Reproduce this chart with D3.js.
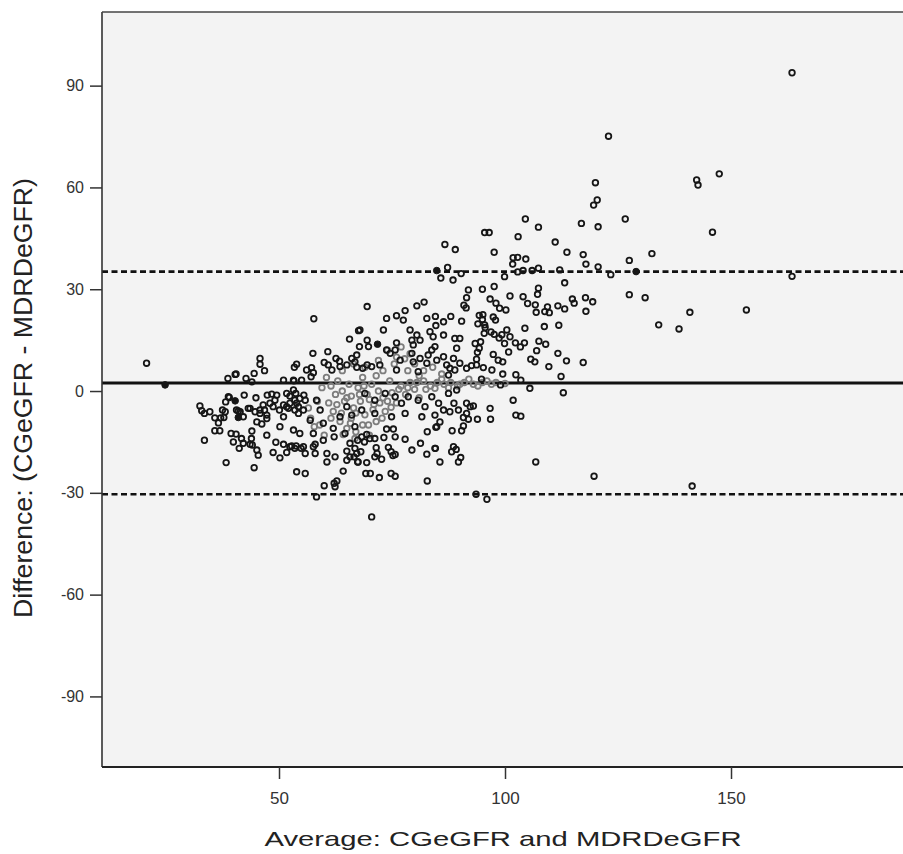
<!DOCTYPE html>
<html><head><meta charset="utf-8">
<script src="https://cdn.jsdelivr.net/npm/d3@7"></script>
<style>
body{margin:0;background:#fff}
svg{display:block}
text{font-family:"Liberation Sans",Arial,sans-serif}
</style></head>
<body><svg id="chart" width="903" height="854"></svg>
<script>
const xLabel = "Average: CGeGFR and MDRDeGFR";
const yLabel = "Difference: (CGeGFR - MDRDeGFR)";
const xTicks = [50, 100, 150];
const yTicks = [-90, -60, -30, 0, 30, 60, 90];
const meanDiff = 2.4, upperLimit = 35.2, lowerLimit = -30.4;

const darkPoints = [
[163.5,93.8],[122.9,75.1],[142.4,62.2],[142.7,60.7],[147.4,64.0],[126.6,50.7],[145.9,46.8],[120.4,56.3],[120.6,48.4],[120.6,36.6],
[132.5,40.5],[127.5,38.5],[123.4,34.3],[163.5,33.8],[127.5,28.4],[131,27.5],[140.9,23.2],[153.4,23.9],[134,19.5],[138.5,18.3],
[141.4,-28.0],[119.7,-25.1],[106.8,-20.9],[93.6,-30.4],[96,-31.9],
[120,61.4],[119.6,54.8],[116.9,49.4],[104.5,50.7],[107.4,48.3],[95.5,46.7],[96.5,46.7],[102.9,45.5],[111.1,43.9],[86.7,43.2],
[89,41.7],[97.6,40.9],[113.7,40.9],[117.3,40.2],[101.8,39.3],[102.8,39.4],[104.6,38.9],[101.7,37.4],[117.9,37.4],[87.3,36.4],
[85.8,33.3],[88.5,32.7],[90.3,34.6],[99.9,33.7],[102.8,35.1],[104,35.5],[106,35.5],[107.4,36.2],[112.1,35.7],[113.2,31.9],
[97.6,30.8],[95,30],[91.9,29.8],[107.4,30.3],
[107.2,28.5],[91.5,27.5],[101.1,28],[104,27.8],[105,25.8],[96.7,27.1],[98,25.9],[98.8,24.4],[106.7,25.4],[100.2,23.9],
[109.4,24.8],[109.8,23.1],[108.8,23.4],[106.9,23.2],[111.7,25.1],[113.2,24.2],[114.9,27.1],[115.3,25.9],[117.8,27.5],[119.4,26.3],
[117.9,23.5],[90.9,25.3],[91.4,24.5],[88,22],[90.4,20.6],[84.6,22],[86.4,20.4],[84.7,19.3],[94.3,22.3],[95.1,22.5],
[95,21.1],[94,19.8],[95.5,19.5],[97.9,20.9],[97.4,21.8],[104.4,18.5],[108.7,19],[111.9,19.4],[83.4,17.5],[84.1,16],
[86.4,16.5],[88.9,15.5],[90,15.5],[95.6,18.7],[95.4,17],[96.9,17.4],[97.6,16.7],[99.3,16.6],[100.4,18],[98.7,15.6],
[99.9,14],[101.1,16],[102.3,14.2],[103.4,13],[104.3,14.2],[107.5,14.7],[109,13.8],[93.4,14],[94.6,14.5],[94.3,12.6],
[93.9,11.4],[89.3,12.6],[107,11.9],[100.8,11.5],[105.7,9.4],[106.6,8.6],[111.7,11.1],[113.6,8.9],[117.3,8.4],[109.7,7.2],
[112.4,4.3],[97.4,10.8],[98.5,9.1],[99.5,8.6],[93.7,9.4],[92.6,7.5],[93.7,7.7],[95.2,6.9],[97.1,6.2],[99.5,5],
[102.4,4.8],[103.5,3.2],[105.5,0.8],[99,1.8],[94.8,3.5],[112.9,-0.5],[101.8,-2.7],[102.4,-7.1],[103.5,-7.4],[96.7,-5.1],
[96.8,-8.3],[93.9,-8.3],[88.3,-11.7],[90.8,-10.3],[90.4,-11.7],[84.9,-10.5],[84.6,-16.9],[88.6,-16.4],[89.2,-17.2],[88.2,-17.9],
[90.2,-19.6],[89.7,-20.9],[85.6,-20.9],[91.5,-3.6],[92.3,-4.6],[93,-4.4],[87.5,-0.7],[89.3,0.3],[88.7,-3.6],[86.4,-5.6],
[87.8,-6.1],[89.7,-5.6],[90.8,-7.8],[91.5,-6.6],
[70.5,-37.1],[82.8,-26.5],[69.2,-24.3],[70.2,-24.3],[72.2,-25.5],[74.8,-24.3],[75.7,-25.1],[69.4,-21.1],[67.4,-20.9],[71.2,-19.4],
[71.7,-18.4],[72.7,-20.1],[71.5,-16.7],[74.2,-16.6],[74.8,-17.9],[75.2,-19],[75.7,-18.7],[68.1,-17.9],[66.8,-16.9],[81.3,-15.4],
[82.7,-18.6],[84.5,-16.9],[82.8,-12],[84.7,-10.7],[85.6,-9.1],[77.9,-14.2],[75.7,-13.5],[73.2,-13.7],[73.8,-11.2],[75.3,-11.2],
[71.2,-14],[70.1,-14],[69.4,-12.8],[68.3,-13.5],[67.4,-14.5],[68.9,-15],[91.9,-8.3],
[58.3,-31.2],[60,-27.9],[62.4,-28.2],[62.8,-26.5],[62.2,-27.2],[64.2,-23.6],[53.9,-23.8],[55.8,-24.3],[44.5,-22.6],[60.6,-18.4],
[60.6,-20.9],[58,-18.4],[55.8,-18.4],[53.5,-16.9],[52.4,-16.4],[50.2,-19.7],[48.7,-18.1],[51.7,-18.1],[45.4,-18.9],[45.1,-17.4],
[49.3,-15.1],[51,-15.7],[41.2,-16.9],[39.9,-15],[43.9,-14],[43.6,-15.7],[47.3,-13],[54.9,-16.9],[65,-17.7],[66.6,-19.4],
[67.5,-20.9],[62.2,-13.5],[58,-15.7],
[20.7,8.2],[45.8,9.6],[45.8,7.9],[46.8,6],[44.5,5.2],[40.3,4.9],[38.7,3.7],[42.7,3.7],[44,2.7],[53.4,7],
[53.9,7.9],[53.3,3],[42.3,-1.2],[44.9,-2],[38.8,-1.7],[32.5,-4.4],[32.9,-5.8],[33.5,-6.6],[34.7,-6.1],[35.8,-7.9],
[37.1,-7.9],[36.6,-9.4],[37.8,-7.8],[38.1,-6.1],[37.5,-5.6],[43.2,-5.1],[44.7,-6.1],[45.8,-5.6],[46.8,-5.6],[47.3,-7.1],
[45.1,-9.1],[46.2,-9.7],[47.3,-8.1],[35.8,-11.7],[36.9,-11.7],[33.5,-14.5],[39.4,-12.5],[40.5,-12.7],[42.1,-15.4],[41.7,-14],
[44,-11.8],[44.1,-15.9],[38.3,-21.1],[52.8,-16.2],[53.8,-16.2],[38.2,-3.2],[41,-5.9],[39,-1.9],
[57.7,21.3],[65.6,15.3],[67.6,17.8],[57.5,11.1],[60.8,11.6],[40.5,5],[56.1,6.2],[57.2,6.9],[57.6,5.4],[57.1,4.2],
[60,8.4],[60.9,7.7],[62.6,9.6],[63.4,8.8],[61.7,6.2],[63.5,7.2],[65,7.7],[66.1,9.6],[67.2,10.6],[66.8,8.6],
[67.2,7],[47.4,-1.2],[48.4,-0.9],[49.5,-1.2],[49.1,-2.7],[48,-3.6],[52.4,-1.5],[53.7,-0.7],[54.6,-2.2],[55.5,-1.2],
[53.9,-3.6],[53.5,-5.6],[54.3,-6.6],[52.1,-5.1],[51,-4.1],[50.1,-5.6],[48.7,-4.6],[46.5,-4.1],[43.6,-5.1],[45.8,-6.6],
[40.6,-5.6],[42.1,-7.6],[41.4,-6.1],[53.2,3.2],[55,3.2],[51,3.2],
[69.5,24.9],[73.8,21.4],[76,22.2],[77.9,23.7],[80.5,25.1],[82.1,26.2],[77.5,20.9],[82.7,21.4],[67.9,18],[67.8,13.1],
[69.5,15],[69.8,13.1],[73.1,18],[73.8,12.1],[76,14.2],[75.7,12.1],[79,18],[80.5,16.5],[81.2,15],[83.8,12.1],
[83,10.6],[79.4,15],[79.7,13.6],[68.5,6.7],[69.5,7.7],[70.5,7.2],[72.3,7.7],[74.6,11.1],[76.8,9.1],[79.4,11.1],
[79.7,8.6],[81.2,9.6],[82.7,8.2],[84.9,9.1],[86.4,10.1],[87.1,7.7],[87.8,6.7],[88.6,9.6],[90,8.2],[91.5,6.7],
[51.7,-0.7],[53.2,0.3],[55.8,-2.7],[53.5,-2.7],[52.4,-3.6],[54.3,-4.6],[55.4,-5.6],[51.7,-4.6],[51,-7.6],[50.2,-10.5],
[53.2,-11.5],[54.6,-12.5],[55.4,-16.4],[57.6,-16.4],[59.8,-14.5],[62.4,-19.4],[65.7,-19.4],[67.2,-18.4],[65,-20.4],[79.4,-17.4],
[84.5,13.1],[87.5,4.7],[88.9,6.2],[80.8,5.7],[76,6.2],[69,-0.7],[71.2,-2.7],[73.5,-0.7],[75.7,-1.7],[77.1,-3.6],
[78.6,-1.7],[80.8,-2.7],[82.3,-4.6],[83.8,-1.7],[85.3,-3.6],[84.5,-7.1],[81.6,-7.6],[77.9,-6.6],[74.9,-7.6],[71.2,-6.6],
[68.3,-5.6],[65,-4.6],[66.1,-7.1],[63.5,-7.6],[66.8,-10.5],[64.6,-12.5],[62,-11],[65.7,-15.4],[58.3,-2.7],[59.1,-5.6],
[56.9,-8.6],[59.8,-9.5],[57.6,-12.5]
];

const grayPoints = [
[60.5,4],[61.5,1.5],[62.5,-1],[63,3],[64,0],[64.5,-3],[65.5,2],[66,-1.5],[66.5,-5],[67.5,1],
[68,-3],[68.5,4],[69,-7],[69.5,-1],[70.5,2],[71,-4],[71.5,-9],[72,0],[73,-2],[73.5,-6],
[74.5,3],[75,-0.5],[76,-3.5],[77,1.5],[78,-1],[79,2.5],[80,0.5],[81,-2],[82,3],[83.5,1.5],
[85,2.5],[86.5,2],[88,2.5],[89.5,1.5],[91,2.5],[93,2],[95,2.5],[97,2],[62,-6],[63.5,-9],
[65,-11],[66,-8],[67,-12],[68.5,-10],[70,-13],[64,6],[66.5,8],[69,7],[72,9],[74,12],
[76,10],[77,13],[79,11],[80,8],[82,6],[84,7],[86,5],[58.5,-3],[57,-8],[59,-10],[60,-13],
[59.5,1],[61,-3.5],[62.8,-4],[63.8,-6.5],[65,-2],[65.8,-9.5],[67,-6.5],[67.8,-1],[68.8,1.5],[70,-2.5],
[70.8,-5.5],[72.3,-3.5],[72.8,-8],[74,-3],[74.8,-4.8],[76.5,0.5],[78.5,1],[80.5,2.5],[82.5,0.5],[84.5,0.8],
[86,3.5],[87.5,1],[90,2],[92,3.5],[94,1.5],[96,3],[98,2.5],[100,2.2],[56.5,-5],[57.8,-10.5],
[61.5,-8],[64.2,-12.8],[66.8,-14],[69.8,-10],[71.5,4.5],[73,6],[75.5,8],[77.8,9.5],[78.5,6],[81,4.5]
];

const filledPoints = [
[24.8,1.8],[129,35.2],[84.9,35.5],[40.3,-2.9],[41,-7.8],[71.8,13.8]
];

const plot = {left: 102, right: 903, top: 12, bottom: 767};
const svg = d3.select("#chart");

const x = d3.scaleLinear().domain([10.84, 188.05]).range([plot.left, plot.right]);
const y = d3.scaleLinear().domain([-110.8, 111.7]).range([plot.bottom, plot.top]);

svg.append("rect").attr("x", plot.left).attr("y", plot.top)
  .attr("width", plot.right - plot.left).attr("height", plot.bottom - plot.top)
  .attr("fill", "#f3f3f3");

svg.append("line").attr("x1", plot.left).attr("x2", plot.right)
  .attr("y1", y(meanDiff)).attr("y2", y(meanDiff))
  .attr("stroke", "#111").attr("stroke-width", 3);
[upperLimit, lowerLimit].forEach(v => {
  svg.append("line").attr("x1", plot.left).attr("x2", plot.right)
    .attr("y1", y(v)).attr("y2", y(v))
    .attr("stroke", "#111").attr("stroke-width", 2.6)
    .attr("stroke-dasharray", "6,3.5");
});

svg.append("g").selectAll("circle").data(grayPoints).join("circle")
  .attr("cx", d => x(d[0])).attr("cy", d => y(d[1])).attr("r", 2.8)
  .attr("fill", "none").attr("stroke", "#7d7d7d").attr("stroke-width", 1.8);
svg.append("g").selectAll("circle").data(darkPoints).join("circle")
  .attr("cx", d => x(d[0])).attr("cy", d => y(d[1])).attr("r", 2.8)
  .attr("fill", "none").attr("stroke", "#161616").attr("stroke-width", 1.8);
svg.append("g").selectAll("circle").data(filledPoints).join("circle")
  .attr("cx", d => x(d[0])).attr("cy", d => y(d[1])).attr("r", 3.3)
  .attr("fill", "#161616").attr("stroke", "#161616").attr("stroke-width", 1);

svg.append("line").attr("x1", plot.left).attr("x2", plot.left).attr("y1", plot.top).attr("y2", plot.bottom)
  .attr("stroke", "#333").attr("stroke-width", 1.6);
svg.append("line").attr("x1", plot.left).attr("x2", plot.right).attr("y1", plot.top).attr("y2", plot.top)
  .attr("stroke", "#444").attr("stroke-width", 1.4);
svg.append("line").attr("x1", plot.left).attr("x2", plot.right).attr("y1", plot.bottom).attr("y2", plot.bottom)
  .attr("stroke", "#222").attr("stroke-width", 1.8);

const yAxis = svg.append("g").attr("transform", `translate(${plot.left},0)`)
  .call(d3.axisLeft(y).tickValues(yTicks).tickFormat(d => String(d)).tickSize(12).tickPadding(6));
yAxis.select(".domain").remove();
yAxis.selectAll(".tick line").attr("stroke", "#333").attr("stroke-width", 1.5);
yAxis.selectAll(".tick text").attr("font-size", 16).attr("fill", "#333")
  .style("font-family", "'Liberation Sans', Arial, sans-serif");

const xAxis = svg.append("g").attr("transform", `translate(0,${plot.bottom})`)
  .call(d3.axisBottom(x).tickValues(xTicks).tickFormat(d => String(d)).tickSize(12).tickPadding(13));
xAxis.select(".domain").remove();
xAxis.selectAll(".tick line").attr("stroke", "#333").attr("stroke-width", 1.5);
xAxis.selectAll(".tick text").attr("font-size", 17).attr("fill", "#333")
  .style("font-family", "'Liberation Sans', Arial, sans-serif");

svg.append("text").attr("x", 503).attr("y", 846)
  .attr("text-anchor", "middle").attr("font-size", 21).attr("fill", "#222")
  .attr("textLength", 477).attr("lengthAdjust", "spacingAndGlyphs")
  .text(xLabel);
svg.append("text").attr("transform", "translate(32,398) rotate(-90)")
  .attr("text-anchor", "middle").attr("font-size", 26).attr("fill", "#222")
  .attr("textLength", 440).attr("lengthAdjust", "spacingAndGlyphs")
  .text(yLabel);
</script>
</body></html>
